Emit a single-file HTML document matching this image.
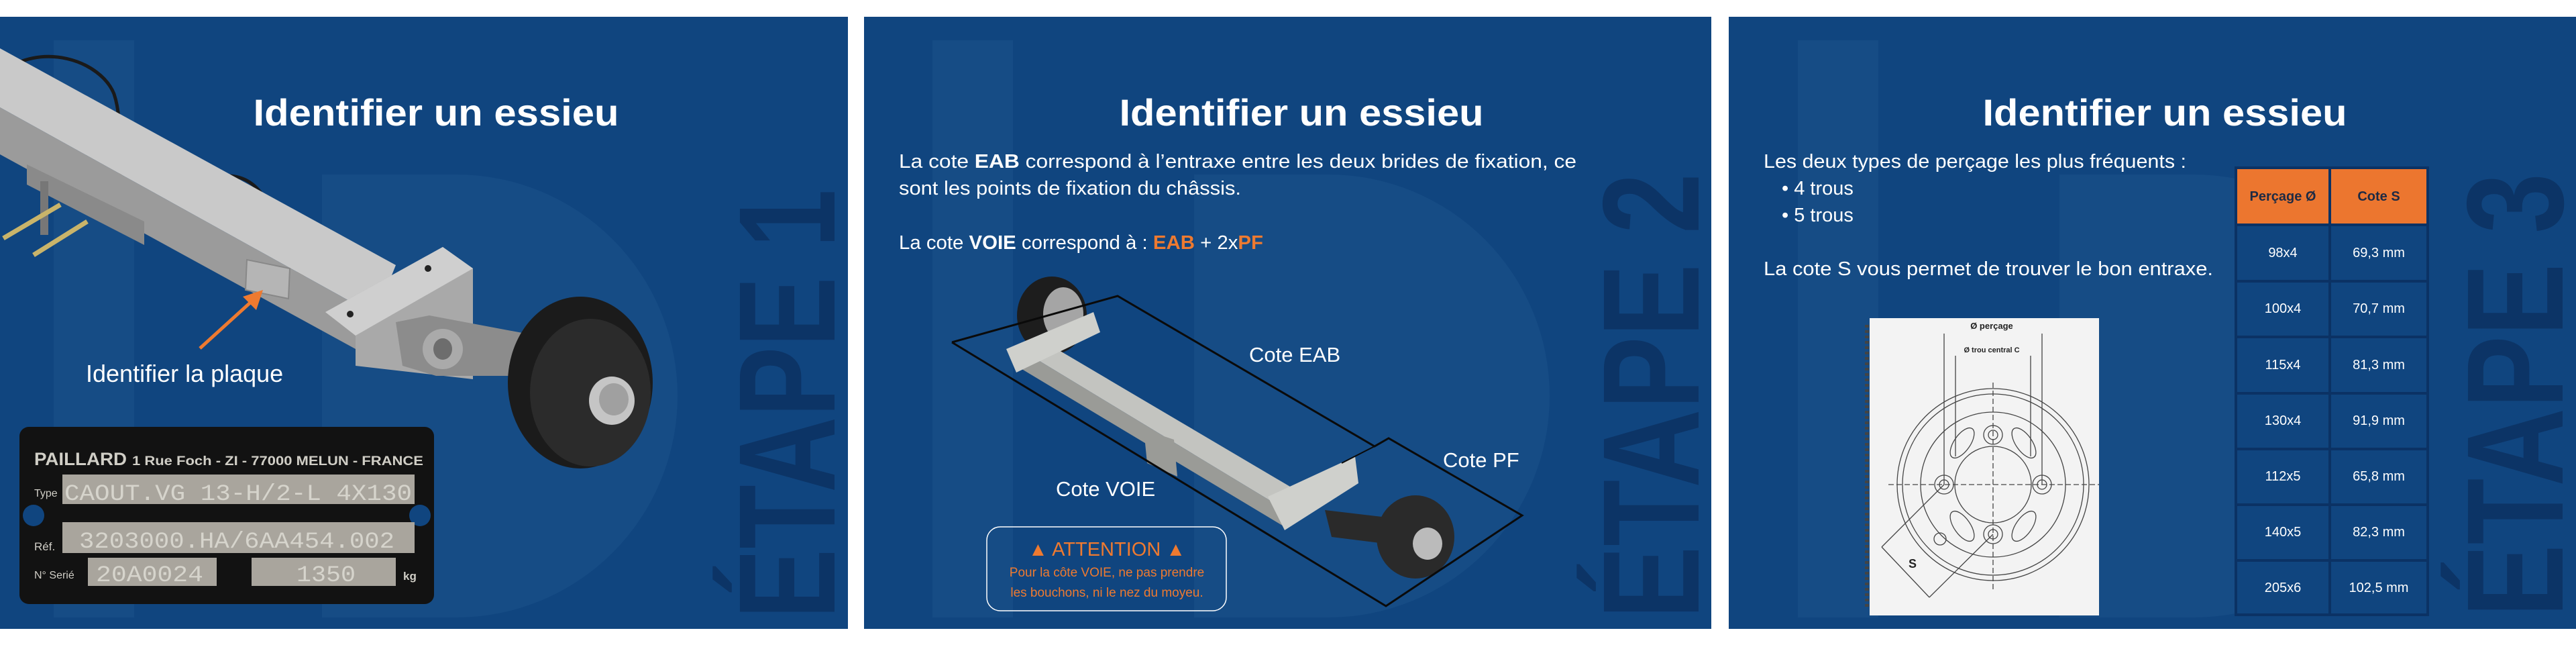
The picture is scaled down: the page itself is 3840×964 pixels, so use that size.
<!DOCTYPE html>
<html><head><meta charset="utf-8"><style>
html,body{margin:0;padding:0;background:#fff;}
svg{display:block;}
</style></head><body>
<svg width="3840" height="964" viewBox="0 0 3840 964" xmlns="http://www.w3.org/2000/svg" font-family="'Liberation Sans', sans-serif">
<rect width="3840" height="964" fill="#fff"/>
<rect x="0" y="25" width="1264" height="912" fill="#10457f"/>
<rect x="1288" y="25" width="1263" height="912" fill="#10457f"/>
<rect x="2577" y="25" width="1263" height="912" fill="#10457f"/>
<g fill="#184d87" opacity="0.8">
<rect x="80" y="60" width="120" height="860"/><path d="M480 260 h200 a330 330 0 0 1 0 660 h-200z"/>
<rect x="1390" y="60" width="120" height="860"/><path d="M1780 260 h200 a330 330 0 0 1 0 660 h-200z"/>
<rect x="2680" y="60" width="120" height="860"/><path d="M3070 260 h200 a330 330 0 0 1 0 660 h-200z"/>
</g>
<g fill="#0c3466" font-weight="bold" font-size="205">
<text transform="translate(1244,922) rotate(-90)" textLength="640" lengthAdjust="spacingAndGlyphs">ÉTAPE 1</text>
<text transform="translate(2532,922) rotate(-90)" textLength="664" lengthAdjust="spacingAndGlyphs">ÉTAPE 2</text>
<text transform="translate(3820,919) rotate(-90)" textLength="661" lengthAdjust="spacingAndGlyphs">ÉTAPE 3</text>
</g>
<g fill="#fff" font-weight="bold" font-size="56">
<text x="650" y="187" text-anchor="middle" textLength="545" lengthAdjust="spacingAndGlyphs">Identifier un essieu</text>
<text x="1940" y="187" text-anchor="middle" textLength="543" lengthAdjust="spacingAndGlyphs">Identifier un essieu</text>
<text x="3227" y="187" text-anchor="middle" textLength="543" lengthAdjust="spacingAndGlyphs">Identifier un essieu</text>
</g>

<!-- PANEL 1 axle -->
<path d="M0 110 C60 60 150 90 170 140 C190 200 160 260 200 310" stroke="#1a1a1a" stroke-width="5" fill="none"/>
<path d="M300 270 C380 240 400 300 420 350 C440 420 480 440 520 470" stroke="#1a1a1a" stroke-width="5" fill="none"/>
<polygon points="0,72 590,395 560,470 0,160" fill="#c9c9c9"/>
<polygon points="0,160 560,470 530,520 0,230" fill="#9b9b9b"/>
<polygon points="40,245 215,330 215,365 40,275" fill="#8a8a8a"/>
<rect x="60" y="270" width="12" height="80" fill="#777"/>
<line x1="5" y1="355" x2="90" y2="305" stroke="#c9b46a" stroke-width="7"/>
<line x1="50" y1="380" x2="130" y2="330" stroke="#c9b46a" stroke-width="7"/>
<polygon points="368,387 432,400 430,445 366,432" fill="#b5b5b5" stroke="#888" stroke-width="2"/>
<polygon points="485,465 660,368 705,400 705,565 530,545 530,500" fill="#a9a9a9"/>
<polygon points="485,465 660,368 705,400 530,500" fill="#cfcfcf"/>
<circle cx="638" cy="400" r="5" fill="#222"/><circle cx="522" cy="468" r="5" fill="#222"/>
<polygon points="590,480 640,470 800,500 790,560 650,560 600,545" fill="#8c8c8c"/>
<ellipse cx="660" cy="520" rx="30" ry="30" fill="#aaa"/><ellipse cx="660" cy="520" rx="14" ry="16" fill="#6d6d6d"/>
<ellipse cx="865" cy="570" rx="108" ry="128" fill="#1b1b1b"/>
<ellipse cx="880" cy="585" rx="90" ry="110" fill="#2b2b2b"/>
<ellipse cx="912" cy="597" rx="34" ry="36" fill="#c5c5c5"/>
<ellipse cx="915" cy="595" rx="22" ry="24" fill="#a0a0a0"/>
<line x1="298" y1="519" x2="385" y2="440" stroke="#ee7a30" stroke-width="5"/>
<polygon points="392,432 362,442 382,462" fill="#ee7a30"/>
<text x="128" y="569" fill="#fff" font-size="36">Identifier la plaque</text>
<rect x="29" y="636" width="618" height="264" rx="14" fill="#121212"/>
<circle cx="50" cy="768" r="16" fill="#10457f"/><circle cx="626" cy="768" r="16" fill="#10457f"/>
<rect x="93" y="707" width="525" height="44" fill="#a9a59d"/>
<rect x="93" y="778" width="525" height="46" fill="#a9a59d"/>
<rect x="131" y="831" width="192" height="42" fill="#a9a59d"/>
<rect x="375" y="831" width="215" height="42" fill="#a9a59d"/>
<g fill="#d0cec6" font-weight="bold">
<text x="51" y="693" font-size="27" textLength="138" lengthAdjust="spacingAndGlyphs">PAILLARD</text>
<text x="197" y="693" font-size="19" textLength="434" lengthAdjust="spacingAndGlyphs">1 Rue Foch - ZI - 77000 MELUN - FRANCE</text>
<text x="51" y="740" font-size="16" font-weight="normal">Type</text>
<text x="51" y="820" font-size="17" font-weight="normal">Réf.</text>
<text x="51" y="862" font-size="16" font-weight="normal">N° Serié</text>
<text x="601" y="864" font-size="17">kg</text>
</g>
<g fill="#d6d4cc" font-family="'Liberation Mono', monospace" font-size="34">
<text x="96" y="745" textLength="518" lengthAdjust="spacingAndGlyphs">CAOUT.VG 13-H/2-L 4X130</text>
<text x="118" y="816" textLength="470" lengthAdjust="spacingAndGlyphs">3203000.HA/6AA454.002</text>
<text x="143" y="866" textLength="160" lengthAdjust="spacingAndGlyphs">20A0024</text>
<text x="442" y="866" textLength="88" lengthAdjust="spacingAndGlyphs">1350</text>
</g>

<!-- PANEL 2 -->
<g fill="#fff" font-size="29">
<text x="1340" y="250" textLength="1010" lengthAdjust="spacingAndGlyphs">La cote <tspan font-weight="bold">EAB</tspan> correspond à l’entraxe entre les deux brides de fixation, ce</text>
<text x="1340" y="290" textLength="510" lengthAdjust="spacingAndGlyphs">sont les points de fixation du châssis.</text>
<text x="1340" y="371" textLength="543" lengthAdjust="spacingAndGlyphs">La cote <tspan font-weight="bold">VOIE</tspan> correspond à : <tspan font-weight="bold" fill="#ee7a30">EAB</tspan> + 2x<tspan font-weight="bold" fill="#ee7a30">PF</tspan></text>
</g>
<ellipse cx="1568" cy="470" rx="52" ry="58" fill="#1d1d1d"/>
<ellipse cx="1585" cy="468" rx="30" ry="40" fill="#a5a5a5"/>
<polygon points="1520,520 1550,505 1940,735 1925,765" fill="#c3c4c0"/>
<polygon points="1520,520 1925,765 1915,785 1515,545" fill="#9a9b97"/>
<polygon points="1500,520 1630,465 1640,495 1515,555" fill="#cfd0cc"/>
<polygon points="1705,640 1750,655 1755,710 1710,690" fill="#9a9b97"/>
<polygon points="1890,740 2020,680 2025,720 1915,790" fill="#cfd0cc"/>
<polygon points="1975,760 2060,770 2065,810 1985,800" fill="#2a2a2a"/>
<ellipse cx="2110" cy="800" rx="58" ry="62" fill="#2a2a2a"/>
<ellipse cx="2128" cy="810" rx="22" ry="24" fill="#bbb"/>
<polyline points="1419,510 1666,441 2049,665 2070,653 2269,768 2066,903 1419,510" fill="none" stroke="#0a0a0a" stroke-width="3"/>
<line x1="2049" y1="665" x2="2000" y2="690" stroke="#0a0a0a" stroke-width="2"/>
<g fill="#fff" font-size="31">
<text x="1862" y="539">Cote EAB</text>
<text x="2151" y="696">Cote PF</text>
<text x="1574" y="739">Cote VOIE</text>
</g>
<rect x="1471" y="785" width="357" height="125" rx="20" fill="none" stroke="#fff" stroke-width="1.5"/>
<text x="1650" y="828" text-anchor="middle" fill="#ee7a30" font-size="29">▲ ATTENTION ▲</text>
<text x="1650" y="859" text-anchor="middle" fill="#ee7a30" font-size="19">Pour la côte VOIE, ne pas prendre</text>
<text x="1650" y="889" text-anchor="middle" fill="#ee7a30" font-size="19">les bouchons, ni le nez du moyeu.</text>

<!-- PANEL 3 -->
<g fill="#fff" font-size="29">
<text x="2629" y="250" textLength="630" lengthAdjust="spacingAndGlyphs">Les deux types de perçage les plus fréquents :</text>
<text x="2656" y="290">• 4 trous</text>
<text x="2656" y="330">• 5 trous</text>
<text x="2629" y="410" textLength="670" lengthAdjust="spacingAndGlyphs">La cote S vous permet de trouver le bon entraxe.</text>
</g>
<rect x="3331" y="248" width="290" height="670" fill="#0b3264"/>
<rect x="3335" y="252" width="136" height="81" fill="#ec762f"/>
<rect x="3475" y="252" width="142" height="81" fill="#ec762f"/>
<g fill="#10457f">
<rect x="3335" y="337" width="136" height="80"/><rect x="3475" y="337" width="142" height="80"/>
<rect x="3335" y="421" width="136" height="79"/><rect x="3475" y="421" width="142" height="79"/>
<rect x="3335" y="504" width="136" height="80"/><rect x="3475" y="504" width="142" height="80"/>
<rect x="3335" y="588" width="136" height="79"/><rect x="3475" y="588" width="142" height="79"/>
<rect x="3335" y="671" width="136" height="79"/><rect x="3475" y="671" width="142" height="79"/>
<rect x="3335" y="754" width="136" height="79"/><rect x="3475" y="754" width="142" height="79"/>
<rect x="3335" y="837" width="136" height="77"/><rect x="3475" y="837" width="142" height="77"/>
</g>
<g font-size="20" text-anchor="middle">
<text x="3403" y="299" font-weight="bold" fill="#1d2a44">Perçage Ø</text>
<text x="3546" y="299" font-weight="bold" fill="#1d2a44">Cote S</text>
<g fill="#fff">
<text x="3403" y="383">98x4</text><text x="3546" y="383">69,3 mm</text>
<text x="3403" y="466">100x4</text><text x="3546" y="466">70,7 mm</text>
<text x="3403" y="550">115x4</text><text x="3546" y="550">81,3 mm</text>
<text x="3403" y="633">130x4</text><text x="3546" y="633">91,9 mm</text>
<text x="3403" y="716">112x5</text><text x="3546" y="716">65,8 mm</text>
<text x="3403" y="799">140x5</text><text x="3546" y="799">82,3 mm</text>
<text x="3403" y="882">205x6</text><text x="3546" y="882">102,5 mm</text>
</g></g>
<rect x="2787" y="474" width="342" height="443" fill="#f3f3f3"/>
<line x1="2783" y1="484" x2="2783" y2="908" stroke="#444" stroke-width="6" stroke-dasharray="4,4"/>
<g fill="none" stroke="#444" stroke-width="1.3">
<circle cx="2971" cy="722" r="143"/><circle cx="2971" cy="722" r="135"/><circle cx="2971" cy="722" r="108"/>
<circle cx="2971" cy="722" r="57"/>
<circle cx="2971" cy="648" r="14"/><circle cx="2971" cy="648" r="7"/>
<circle cx="2898" cy="722" r="14"/><circle cx="2898" cy="722" r="7"/>
<circle cx="3044" cy="722" r="14"/><circle cx="3044" cy="722" r="7"/>
<circle cx="2971" cy="796" r="14"/><circle cx="2971" cy="796" r="7"/>
<circle cx="2892" cy="803" r="9"/>
<ellipse cx="2925" cy="660" rx="12" ry="26" transform="rotate(35 2925 660)"/>
<ellipse cx="3017" cy="660" rx="12" ry="26" transform="rotate(-35 3017 660)"/>
<ellipse cx="2925" cy="784" rx="12" ry="26" transform="rotate(-35 2925 784)"/>
<ellipse cx="3017" cy="784" rx="12" ry="26" transform="rotate(35 3017 784)"/>
<line x1="2898" y1="497" x2="2898" y2="722"/><line x1="3044" y1="497" x2="3044" y2="722"/>
<line x1="2915" y1="530" x2="2915" y2="680"/><line x1="3027" y1="530" x2="3027" y2="680"/>
<line x1="2815" y1="722" x2="3129" y2="722" stroke-dasharray="8,4"/>
<line x1="2971" y1="570" x2="2971" y2="880" stroke-dasharray="8,4"/>
<line x1="2805" y1="815" x2="2876" y2="890"/>
<line x1="2876" y1="890" x2="2971" y2="796"/>
<line x1="2805" y1="815" x2="2898" y2="722"/>
</g>
<text x="2969" y="490" text-anchor="middle" font-size="13" font-weight="bold" fill="#222">Ø perçage</text>
<text x="2969" y="525" text-anchor="middle" font-size="11" font-weight="bold" fill="#222">Ø trou central C</text>
<text x="2845" y="846" font-size="18" font-weight="bold" fill="#222">S</text>
</svg>
</body></html>
